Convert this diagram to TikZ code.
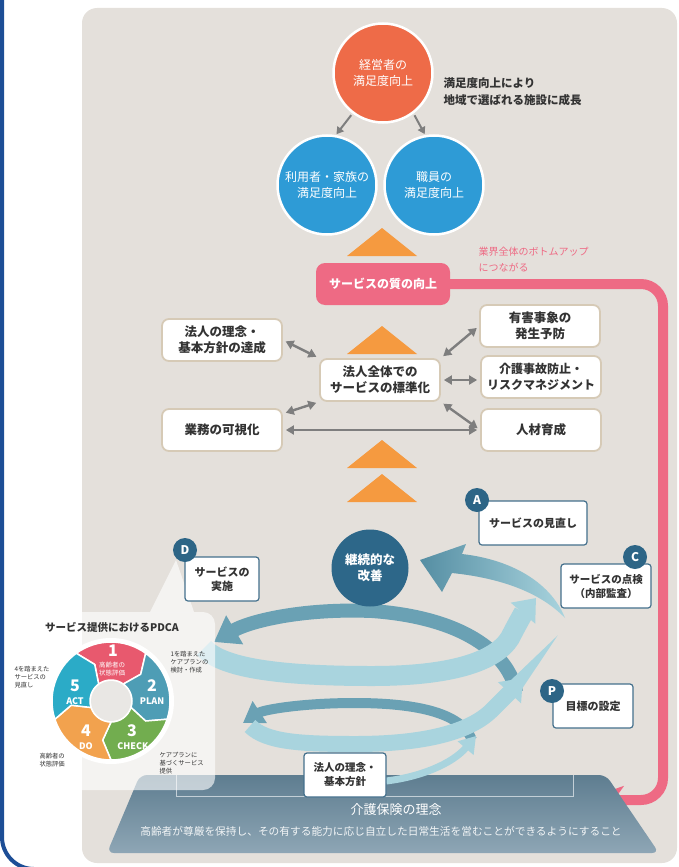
\documentclass[tikz,border=0pt]{standalone}
\usepackage{fontspec}
\setmainfont{Noto Sans CJK JP}
\usetikzlibrary{arrows.meta}

\definecolor{panel}{HTML}{E4E0DB}
\definecolor{frameblue}{HTML}{1D4E96}
\definecolor{discorange}{HTML}{EE6B48}
\definecolor{discblue}{HTML}{2E9BD6}
\definecolor{triorange}{HTML}{F59A40}
\definecolor{pinkband}{HTML}{EE6A84}
\definecolor{boxedge}{HTML}{D6CAB6}
\definecolor{ink}{HTML}{333333}
\definecolor{arrgray}{HTML}{7E7E7E}
\definecolor{badgeblue}{HTML}{2D6586}
\definecolor{pboxedge}{HTML}{44708C}
\definecolor{spiraldark}{HTML}{6AA1B4}
\definecolor{spirallight}{HTML}{A9D4DE}
\definecolor{spiraldeep}{HTML}{558EA3}
\definecolor{kaizen}{HTML}{2D6789}
\definecolor{basetop}{HTML}{5E7D90}
\definecolor{basebot}{HTML}{8EA6B5}
\definecolor{bracketline}{HTML}{C3CFD7}
\definecolor{segone}{HTML}{E8596E}
\definecolor{segtwo}{HTML}{4E9DB5}
\definecolor{segthree}{HTML}{72AD4F}
\definecolor{segfour}{HTML}{F2A24E}
\definecolor{segfive}{HTML}{2BABC7}
\definecolor{hubgray}{HTML}{E9E7E4}

\begin{document}
\begin{tikzpicture}[x=1pt,y=-1pt,
  bigdisc/.style={circle, draw=white, line width=2.5pt, minimum size=99pt, inner sep=0pt,
    align=center, text=white, font=\fontsize{12}{16}\selectfont},
  onearr/.style={-{Triangle[length=7pt,width=8pt]}, draw=arrgray, line width=2pt,
    shorten <=2pt, shorten >=1pt},
  midbox/.style={draw=boxedge, line width=1.8pt, fill=white, rounded corners=7pt,
    minimum width=120pt, minimum height=42pt, inner sep=0pt, align=center, text=ink,
    font=\bfseries\fontsize{12.5}{16}\selectfont},
  dbl/.style={{Triangle[length=8pt,width=9pt]}-{Triangle[length=8pt,width=9pt]},
    draw=arrgray, line width=2.4pt, shorten <=3pt, shorten >=3pt},
  pbox/.style={draw=pboxedge, line width=1.2pt, fill=white, rounded corners=3pt,
    minimum height=44pt, inner sep=0pt, align=center, text=ink,
    font=\bfseries\fontsize{10.5}{14}\selectfont},
  badge/.style={circle, fill=badgeblue, minimum size=24pt, inner sep=0pt, text=white,
    font=\bfseries\fontsize{12}{12}\selectfont},
  uptri/.style={fill=triorange},
  tiny/.style={align=left, text=ink, font=\fontsize{6.3}{8}\selectfont},
  segnum/.style={text=white, font=\bfseries\fontsize{16}{16}\selectfont, inner sep=0pt},
  segword/.style={text=white, font=\bfseries\fontsize{9}{9}\selectfont, inner sep=0pt},
]
\useasboundingbox (0,0) rectangle (679,867);

% background panel
\fill[panel, rounded corners=15pt] (82,8) rectangle (677,863);

% satisfaction discs
\node[bigdisc, fill=discorange] (owner) at (383,73) {経営者の\\満足度向上};
\node[bigdisc, fill=discblue] (user) at (327,185) {利用者・家族の\\満足度向上};
\node[bigdisc, fill=discblue] (staff) at (434,185) {職員の\\満足度向上};
\draw[onearr] (owner.233) -- (user.80);
\draw[onearr] (owner.307) -- (staff.100);
\node[anchor=west, align=left, text=ink, font=\bfseries\fontsize{11.5}{17}\selectfont]
  (growth) at (440,92) {満足度向上により\\地域で選ばれる施設に成長};

% rising triangles
\foreach \ty in {228,326,440,474}
  \fill[uptri] (382,\ty) -- (417,\ty+28) -- (347,\ty+28) -- cycle;

% quality box and the return route to the base
\node[fill=pinkband, rounded corners=9pt, minimum width=134pt, minimum height=42pt,
  inner sep=0pt, text=white, font=\bfseries\fontsize{12}{14}\selectfont]
  (quality) at (383,284) {サービスの質の向上};
\node[anchor=west, align=left, text=pinkband, font=\fontsize{10}{16}\selectfont]
  (bottomup) at (475,260) {業界全体のボトムアップ\\につながる};
\coordinate (ret) at (583,800);
\draw[pinkband, line width=10pt, rounded corners=22pt,
  -{Stealth[length=40pt,width=27pt,inset=9pt]}]
  (quality.east) -- (663,284) -- (663,800) -- (ret);

% standardisation hub
\node[midbox] (creed) at (222,340) {法人の理念・\\基本方針の達成};
\node[midbox] (std) at (380,380) {法人全体での\\サービスの標準化};
\node[midbox] (harm) at (540,326) {有害事象の\\発生予防};
\node[midbox, font=\bfseries\fontsize{12}{16}\selectfont] (risk) at (541,377) {介護事故防止・\\リスクマネジメント};
\node[midbox] (visual) at (222,430) {業務の可視化};
\node[midbox] (hr) at (541,430) {人材育成};
\draw[dbl] (std.north west) -- (creed.east);
\draw[dbl] (std.north east) -- (harm.west);
\draw[dbl] (std.east) -- (std.east -| risk.west);
\draw[dbl] (std.south east) -- (hr.west);
\draw[dbl] (std.south west) -- (visual.15);
\draw[dbl] (visual.east) -- (hr.west);

% base: long-term care insurance principle
\shade[top color=basetop, bottom color=basebot, rounded corners=7pt]
  (140,775) -- (606,775) -- (659,853) -- (107,853) -- cycle;
\draw[bracketline, line width=0.8pt] (176,775) -- (176,796) -- (573,796) -- (573,775);
\node[text=white, font=\fontsize{13}{15}\selectfont] (principle) at (396,810) {介護保険の理念};
\node[text=white!92!basetop, font=\fontsize{10.7}{12}\selectfont] (principletext) at (381,831)
  {高齢者が尊厳を保持し、その有する能力に応じ自立した日常生活を営むことができるようにすること};

% spiral of continuous improvement
\coordinate (lowstart) at (386,781);
\draw[spiraldark, line width=14pt, -{Triangle[length=24pt,width=32pt]}]
  (516,692) .. controls (510,658) and (470,618) .. (372,611)
  .. controls (300,608) and (248,622) .. (214,642);
\draw[spiraldark, line width=10pt, -{Triangle[length=20pt,width=25pt]}]
  (472,740) .. controls (462,714) and (420,703) .. (355,703)
  .. controls (300,703) and (263,710) .. (243,723);
\draw[spirallight, line width=7pt, -{Triangle[length=16pt,width=20pt]}]
  (lowstart) .. controls (420,777) and (452,764) .. (476,736);
\draw[spirallight, line width=16pt, -{Triangle[length=20pt,width=30pt]}]
  (250,726) .. controls (266,742) and (300,744) .. (355,744)
  .. controls (425,744) and (470,732) .. (492,710)
  .. controls (502,700) and (512,690) .. (523,678);
\draw[spirallight, line width=20pt, -{Triangle[length=20pt,width=31pt]}]
  (204,648) .. controls (224,670) and (290,676) .. (372,676)
  .. controls (450,676) and (495,662) .. (510,638)
  .. controls (516,626) and (524,612) .. (536,598);
\shade[left color=spiraldeep, right color=spirallight]
  (565,618) .. controls (552,585) and (515,560) .. (462,554)
  -- (466,544) -- (420,560) -- (442,592) -- (452,573)
  .. controls (500,578) and (540,592) .. (565,618) -- cycle;
\node[circle, fill=kaizen, minimum size=77pt, inner sep=0pt, align=center, text=white,
  font=\bfseries\fontsize{12.5}{16}\selectfont] (kaizen) at (370,568) {継続的な\\改善};

% PDCA panel (translucent card with pointer)
\fill[white, fill opacity=0.62, rounded corners=12pt] (-5,612) rectangle (215,790);
\fill[white, fill opacity=0.62] (176,560) -- (150,612) -- (194,612) -- cycle;
\node[text=ink, font=\bfseries\fontsize{10.5}{12}\selectfont] (pdcatitle) at (112,627)
  {サービス提供におけるPDCA};

% PDCA wheel
\begin{scope}[shift={(111,701)}]
  \fill[white] (0,0) circle (63);
  \foreach \a/\c in {-90/segone,-18/segtwo,54/segthree,126/segfour,198/segfive}{
    \pgfmathsetmacro\s{\a-36}
    \pgfmathsetmacro\e{\a+36}
    \fill[\c, draw=white, line width=1.5pt, line join=round]
      (\s:59) -- ({\s+12}:40) -- (\s:21)
      arc[start angle=\s, end angle=\e, radius=21]
      -- ({\e+12}:40) -- (\e:59)
      arc[start angle=\e, end angle=\s, radius=59] -- cycle;
  }
  \fill[hubgray] (0,0) circle (20);
\end{scope}
\node[segnum] (n1) at (113,651) {1};
\node[text=white, align=center, font=\fontsize{6.5}{8.5}\selectfont, inner sep=0pt]
  (t1) at (112,669) {高齢者の\\状態評価};
\node[segnum] (n2) at (152,686) {2};
\node[segword] (t2) at (152,701) {PLAN};
\node[segnum] (n3) at (132,731) {3};
\node[segword] (t3) at (133,746) {CHECK};
\node[segnum] (n4) at (86,731) {4};
\node[segword] (t4) at (86,746) {DO};
\node[segnum] (n5) at (75,686) {5};
\node[segword] (t5) at (75,701) {ACT};
\node[tiny, anchor=west] (noteplan) at (167,662) {1を踏まえた\\ケアプランの\\検討・作成};
\node[tiny, anchor=west] (noteact) at (11,677) {4を踏まえた\\サービスの\\見直し};
\node[tiny, anchor=west] (notedo) at (36,760) {高齢者の\\状態評価};
\node[tiny, anchor=west] (notecheck) at (156,763) {ケアプランに\\基づくサービス\\提供};

% PDCA step boxes with badges
\node[pbox, minimum width=108pt, font=\bfseries\fontsize{11}{14}\selectfont] (act) at (533,523) {サービスの見直し};
\node[pbox, minimum width=90pt] (check) at (606,586) {サービスの点検\\（内部監査）};
\node[pbox, minimum width=80pt, font=\bfseries\fontsize{11}{14}\selectfont] (plan) at (593,706) {目標の設定};
\node[pbox, minimum width=74pt, font=\bfseries\fontsize{11}{14}\selectfont] (do) at (222,579) {サービスの\\実施};
\node[pbox, minimum width=82pt] (base) at (345,775) {法人の理念・\\基本方針};
\node[badge] (ba) at (477,500) {A};
\node[badge] (bc) at (635,557) {C};
\node[badge] (bp) at (552,691) {P};
\node[badge] (bd) at (185,550) {D};

% page frame
\draw[frameblue, line width=4pt, rounded corners=32pt] (2,-10) -- (2,869) -- (200,869);
\end{tikzpicture}
\end{document}
